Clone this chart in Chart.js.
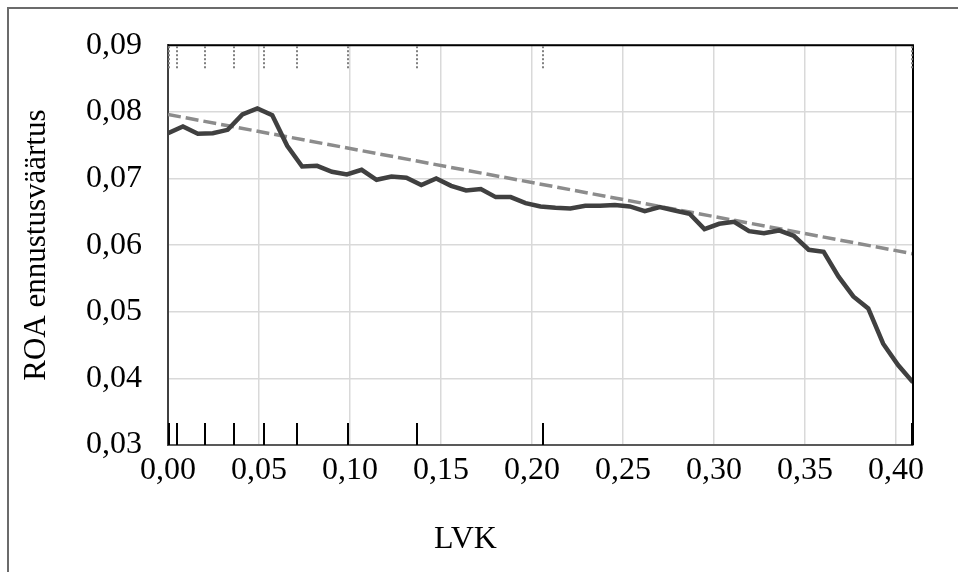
<!DOCTYPE html>
<html>
<head>
<meta charset="utf-8">
<script src="https://cdn.jsdelivr.net/npm/chart.js@4.4.1/dist/chart.umd.min.js"></script>
<style>
  html, body { margin: 0; padding: 0; background: #fff; }
  #wrap { position: relative; width: 958px; height: 572px; overflow: hidden; }
  #frame { position: absolute; left: 7px; top: 7px; width: 1200px; height: 1200px;
           border-left: 2px solid #6b6b6b; border-top: 2px solid #6b6b6b; }
  #chart { position: absolute; left: 0; top: 0; }
</style>
</head>
<body>
<div id="wrap">
  <div id="frame"></div>
  <canvas id="chart" width="958" height="572"></canvas>
</div>
<script>
// ** LVK vs ROA forecast **//
var lvk = [0.0000, 0.0082, 0.0164, 0.0246, 0.0328, 0.0409, 0.0491, 0.0573, 0.0655, 0.0737,
           0.0819, 0.0901, 0.0983, 0.1064, 0.1146, 0.1228, 0.1310, 0.1392, 0.1474, 0.1556,
           0.1638, 0.1719, 0.1801, 0.1883, 0.1965, 0.2047, 0.2129, 0.2211, 0.2293, 0.2374,
           0.2456, 0.2538, 0.2620, 0.2702, 0.2784, 0.2866, 0.2948, 0.3029, 0.3111, 0.3193,
           0.3275, 0.3357, 0.3439, 0.3521, 0.3603, 0.3684, 0.3766, 0.3848, 0.3930, 0.4012, 0.4094];
var roa = [0.0768, 0.0778, 0.0767, 0.0768, 0.0773, 0.0796, 0.0805, 0.0795, 0.0749, 0.0718,
           0.0719, 0.0710, 0.0706, 0.0713, 0.0698, 0.0703, 0.0701, 0.0690, 0.0700, 0.0689,
           0.0682, 0.0684, 0.0672, 0.0672, 0.0663, 0.0658, 0.0656, 0.0655, 0.0659, 0.0659,
           0.0660, 0.0658, 0.0651, 0.0657, 0.0652, 0.0647, 0.0624, 0.0632, 0.0635, 0.0621,
           0.0618, 0.0622, 0.0614, 0.0593, 0.0590, 0.0553, 0.0523, 0.0505, 0.0452, 0.0420, 0.0394];
var trendX = [0.0000, 0.4094];
var trendY = [0.0796, 0.0587];
var rug = [0.0005, 0.0049, 0.0205, 0.0360, 0.0530, 0.0710, 0.0988, 0.1371, 0.2058, 0.4088];
var yTicks = [0.03, 0.04, 0.05, 0.06, 0.07, 0.08, 0.09];
var xTicks = [0.00, 0.05, 0.10, 0.15, 0.20, 0.25, 0.30, 0.35, 0.40];

var serif = 'Liberation Serif, Times New Roman, serif';
var comma = function(v) { return Number(v).toFixed(2).replace('.', ','); };

// frame + rug marks, drawn through the scales
var rugPlugin = {
    id: 'rug',
    afterDatasetsDraw: function(chart) {
        var c = chart.ctx, a = chart.chartArea, xs = chart.scales.x;
        c.save();
        // top and right frame
        c.strokeStyle = '#000';
        c.lineWidth = 2;
        c.beginPath();
        c.moveTo(a.left, a.top); c.lineTo(a.right, a.top); c.lineTo(a.right, a.bottom);
        c.stroke();
        // bottom rug, solid black
        rug.forEach(function(v) {
            var px = Math.round(xs.getPixelForValue(v));
            c.beginPath(); c.moveTo(px, a.bottom); c.lineTo(px, a.bottom - 22); c.stroke();
        });
        // top rug, dotted grey
        c.strokeStyle = '#808080';
        c.setLineDash([2, 2]);
        rug.forEach(function(v) {
            var px = Math.round(xs.getPixelForValue(v));
            c.beginPath(); c.moveTo(px, a.top + 1); c.lineTo(px, a.top + 23); c.stroke();
        });
        c.restore();
    }
};

var ctx = document.getElementById('chart');
var chart = new Chart(ctx, {
    type: 'line',
    data: {
        datasets: [{
            data: lvk.map(function(x, i) { return {x: x, y: roa[i]}; }),
            borderColor: '#404040',
            borderWidth: 4.5,
            pointRadius: 0,
            tension: 0,
            order: 1
        }, {
            data: trendX.map(function(x, i) { return {x: x, y: trendY[i]}; }),
            borderColor: '#8c8c8c',
            borderWidth: 3.5,
            borderDash: [13, 5],
            pointRadius: 0,
            order: 2
        }]
    },
    options: {
        responsive: false,
        animation: false,
        layout: { padding: { left: 18, top: 38, right: 45, bottom: 0 } },
        plugins: {
            legend: { display: false },
            tooltip: { enabled: false },
            title: {
                display: true, position: 'bottom', text: 'LVK', color: '#000',
                font: { family: serif, size: 32, weight: 'normal' },
                padding: { top: 0, bottom: 13 }
            }
        },
        scales: {
            x: {
                type: 'linear',
                min: 0, max: 0.4094,
                afterBuildTicks: function(s) { s.ticks = xTicks.map(function(v) { return {value: v}; }); },
                afterFit: function(s) { s.height = 75.6; },
                ticks: { callback: comma, padding: 6, color: '#000', font: { family: serif, size: 32 }, maxRotation: 0 },
                grid: { color: '#d9d9d9', lineWidth: 1.5, drawTicks: false },
                border: { color: '#595959', width: 2 }
            },
            y: {
                min: 0.03, max: 0.09,
                afterBuildTicks: function(s) { s.ticks = yTicks.map(function(v) { return {value: v}; }); },
                afterFit: function(s) { s.width = 150; },
                ticks: { callback: comma, padding: 26, color: '#000', font: { family: serif, size: 32 } },
                grid: { color: '#d9d9d9', lineWidth: 1.5, drawTicks: false },
                border: { color: '#404040', width: 2 },
                title: { display: true, text: 'ROA ennustusväärtus', color: '#000', font: { family: serif, size: 31 }, padding: { top: 0, bottom: 0 } }
            }
        }
    },
    plugins: [rugPlugin]
});
</script>
</body>
</html>
